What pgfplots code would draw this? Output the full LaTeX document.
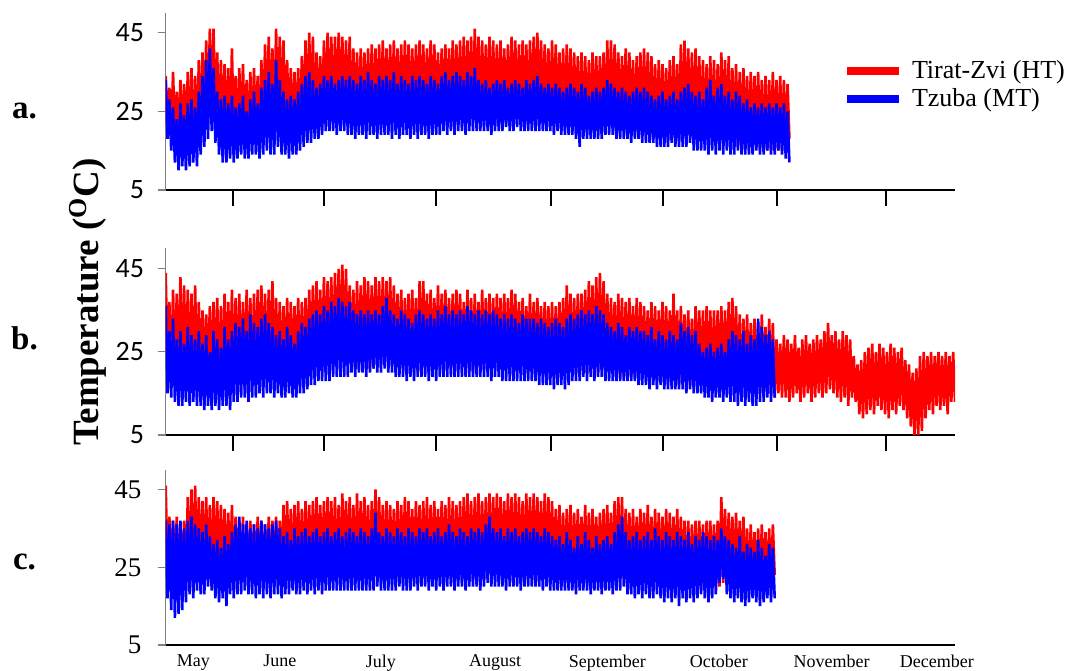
\documentclass[border=0pt]{standalone}
\usepackage{fontspec}
\setmainfont{Liberation Serif}
\newfontfamily\calibri{Carlito}
\usepackage{pgfplots}
\usepackage{pgfplotstable}
\pgfplotsset{compat=1.18}

% daily maximum and minimum, alternating: day d -> max at d, min at d+0.5
% panel a
\pgfplotstableread[row sep=\\,header=false]{34\\20\\31\\19\\35\\18\\30\\17\\33\\16\\32\\17\\35\\15\\36\\15\\34\\16\\38\\18\\
40\\20\\43\\22\\46\\24\\46\\22\\40\\19\\38\\18\\37\\17\\36\\17\\41\\18\\34\\17\\
36\\18\\37\\17\\33\\16\\35\\17\\36\\18\\34\\18\\38\\19\\42\\20\\44\\21\\41\\20\\
46\\22\\44\\21\\43\\20\\38\\19\\36\\18\\35\\18\\36\\19\\39\\20\\43\\21\\45\\22\\
44\\22\\40\\21\\39\\21\\43\\22\\45\\23\\44\\23\\44\\23\\45\\23\\44\\22\\43\\22\\
44\\22\\41\\21\\40\\21\\41\\21\\40\\21\\41\\22\\42\\22\\41\\22\\42\\22\\43\\22\\
41\\22\\42\\22\\43\\23\\41\\22\\42\\22\\43\\23\\42\\22\\41\\22\\42\\22\\43\\23\\
42\\22\\41\\22\\43\\23\\42\\22\\40\\22\\41\\22\\42\\22\\41\\22\\43\\23\\42\\22\\
43\\23\\44\\23\\43\\23\\44\\23\\46\\24\\44\\23\\43\\23\\42\\23\\44\\23\\43\\22\\
42\\22\\43\\23\\41\\22\\42\\22\\44\\23\\43\\23\\42\\22\\43\\22\\42\\22\\43\\23\\
44\\23\\45\\23\\43\\23\\42\\22\\41\\22\\43\\22\\42\\22\\40\\21\\41\\21\\42\\21\\
41\\21\\40\\21\\39\\20\\40\\20\\39\\20\\38\\20\\40\\20\\39\\20\\39\\20\\40\\20\\
43\\21\\43\\21\\42\\21\\40\\20\\39\\20\\41\\20\\40\\20\\38\\19\\39\\19\\40\\19\\
41\\19\\40\\19\\39\\19\\37\\18\\38\\18\\37\\18\\36\\18\\38\\18\\39\\18\\37\\18\\
42\\19\\43\\19\\41\\19\\40\\18\\41\\18\\39\\18\\38\\17\\37\\17\\39\\17\\38\\17\\
37\\17\\40\\18\\38\\17\\39\\17\\36\\16\\37\\16\\35\\16\\36\\16\\34\\16\\35\\16\\
34\\16\\35\\16\\33\\15\\34\\15\\33\\15\\35\\15\\33\\15\\34\\15\\33\\15\\32\\18\\}\redA
\pgfplotstableread[row sep=\\,header=false]{33\\18\\28\\15\\26\\12\\23\\10\\27\\11\\24\\10\\27\\11\\28\\12\\26\\11\\30\\14\\
34\\16\\38\\18\\41\\20\\36\\17\\30\\14\\28\\12\\29\\12\\27\\13\\29\\12\\26\\13\\
27\\14\\29\\13\\25\\13\\28\\14\\30\\14\\27\\13\\31\\14\\33\\15\\35\\14\\32\\14\\
38\\16\\33\\14\\30\\14\\28\\13\\29\\14\\28\\14\\30\\15\\32\\16\\34\\17\\35\\17\\
33\\18\\31\\18\\32\\19\\34\\20\\33\\20\\34\\20\\32\\19\\33\\20\\34\\20\\33\\19\\
34\\19\\33\\18\\32\\19\\34\\19\\33\\18\\35\\19\\33\\19\\32\\18\\34\\19\\33\\19\\
34\\19\\33\\18\\35\\19\\32\\18\\34\\19\\33\\19\\32\\18\\34\\19\\33\\18\\34\\19\\
33\\19\\32\\18\\34\\19\\33\\19\\32\\19\\34\\20\\35\\19\\33\\20\\34\\19\\35\\20\\
34\\20\\33\\19\\35\\20\\34\\20\\36\\20\\33\\20\\32\\20\\33\\20\\31\\19\\32\\20\\
33\\20\\32\\20\\33\\21\\31\\20\\32\\20\\33\\21\\32\\20\\31\\20\\33\\20\\32\\20\\
33\\20\\34\\20\\32\\20\\31\\20\\32\\20\\31\\19\\32\\20\\31\\19\\30\\19\\31\\19\\
32\\19\\31\\18\\30\\16\\32\\18\\31\\18\\29\\18\\30\\18\\31\\18\\30\\18\\31\\19\\
33\\19\\32\\19\\31\\18\\30\\18\\31\\18\\30\\18\\29\\17\\30\\18\\31\\18\\30\\17\\
31\\17\\30\\17\\29\\17\\28\\16\\29\\16\\30\\16\\28\\16\\29\\17\\30\\16\\28\\16\\
30\\16\\31\\16\\32\\17\\30\\15\\29\\15\\30\\15\\28\\15\\31\\14\\33\\15\\29\\14\\
31\\15\\32\\14\\29\\15\\30\\14\\28\\14\\30\\15\\29\\14\\27\\14\\28\\14\\26\\14\\
27\\15\\26\\14\\27\\14\\26\\15\\27\\14\\26\\14\\27\\15\\26\\14\\27\\13\\25\\12\\}\blueA
% panel b
\pgfplotstableread[row sep=\\,header=false]{44\\22\\37\\18\\40\\17\\39\\16\\43\\16\\41\\17\\40\\16\\39\\16\\41\\17\\37\\18\\
35\\19\\34\\20\\36\\18\\37\\17\\38\\16\\36\\16\\39\\17\\37\\16\\40\\16\\38\\16\\
39\\17\\37\\16\\40\\17\\38\\17\\39\\17\\40\\18\\41\\18\\39\\18\\40\\18\\42\\19\\
38\\18\\37\\18\\36\\17\\38\\18\\37\\18\\36\\18\\38\\18\\37\\19\\38\\19\\40\\20\\
41\\20\\42\\20\\40\\20\\43\\21\\42\\21\\43\\21\\44\\22\\45\\22\\46\\22\\45\\22\\
41\\22\\40\\21\\42\\21\\41\\21\\43\\22\\42\\21\\41\\21\\43\\22\\42\\22\\43\\22\\
42\\22\\43\\22\\41\\21\\39\\21\\40\\21\\38\\21\\39\\21\\40\\21\\38\\20\\42\\21\\
42\\21\\39\\21\\40\\21\\38\\21\\41\\21\\39\\21\\40\\21\\38\\21\\39\\21\\40\\21\\
39\\21\\37\\21\\40\\21\\38\\20\\39\\21\\37\\21\\40\\21\\38\\21\\39\\20\\38\\21\\
39\\21\\38\\21\\39\\21\\38\\21\\40\\21\\39\\21\\37\\21\\38\\20\\36\\20\\39\\20\\
37\\20\\38\\20\\36\\20\\37\\20\\36\\19\\37\\19\\36\\19\\37\\19\\38\\20\\41\\20\\
39\\20\\38\\20\\39\\20\\39\\20\\40\\20\\42\\20\\41\\20\\43\\20\\44\\21\\42\\20\\
39\\20\\38\\20\\37\\19\\39\\19\\38\\19\\37\\19\\38\\19\\36\\19\\38\\19\\37\\19\\
36\\19\\35\\18\\37\\18\\36\\18\\35\\18\\37\\18\\36\\18\\35\\18\\39\\18\\35\\17\\
36\\17\\34\\17\\35\\17\\33\\17\\36\\17\\35\\17\\35\\16\\36\\16\\35\\16\\35\\16\\
35\\16\\36\\16\\35\\16\\37\\16\\38\\16\\36\\15\\34\\15\\33\\15\\34\\15\\32\\15\\
33\\15\\32\\15\\34\\15\\31\\15\\33\\15\\32\\14\\28\\15\\27\\14\\29\\14\\28\\13\\
27\\14\\29\\15\\26\\13\\28\\14\\29\\15\\27\\13\\28\\14\\29\\15\\28\\14\\30\\15\\
32\\16\\29\\15\\30\\14\\28\\13\\30\\14\\29\\12\\28\\14\\24\\13\\22\\10\\23\\9\\
25\\10\\26\\11\\27\\10\\25\\12\\27\\11\\26\\10\\25\\9\\27\\11\\26\\10\\25\\12\\
26\\11\\23\\9\\22\\7\\20\\5\\21\\5\\24\\6\\25\\9\\24\\11\\25\\10\\24\\12\\
25\\11\\24\\12\\25\\10\\24\\13\\25\\13\\}\redB
\pgfplotstableread[row sep=\\,header=false]{36\\15\\30\\14\\33\\13\\28\\12\\30\\12\\27\\13\\31\\12\\29\\13\\28\\12\\30\\12\\
27\\11\\29\\12\\25\\11\\30\\12\\28\\11\\26\\12\\31\\12\\28\\11\\30\\13\\32\\13\\
31\\14\\33\\14\\30\\13\\34\\14\\32\\14\\31\\15\\33\\14\\34\\15\\32\\15\\31\\14\\
29\\15\\30\\14\\28\\14\\31\\15\\29\\14\\27\\14\\30\\15\\32\\15\\31\\16\\33\\17\\
34\\17\\35\\18\\34\\18\\36\\18\\35\\18\\37\\19\\36\\19\\38\\19\\37\\19\\36\\19\\
37\\20\\35\\19\\34\\20\\35\\20\\34\\19\\35\\20\\34\\21\\35\\20\\34\\20\\36\\21\\
38\\20\\35\\20\\34\\19\\33\\19\\35\\19\\34\\18\\33\\19\\32\\18\\34\\19\\35\\19\\
34\\19\\33\\18\\34\\19\\33\\18\\35\\19\\34\\19\\36\\19\\34\\19\\35\\19\\34\\19\\
35\\19\\34\\19\\36\\19\\35\\19\\34\\19\\35\\19\\34\\19\\35\\19\\34\\18\\35\\19\\
34\\19\\33\\18\\34\\18\\33\\18\\34\\18\\33\\18\\32\\18\\34\\18\\33\\18\\33\\18\\
33\\18\\32\\17\\33\\17\\32\\17\\31\\17\\32\\16\\33\\17\\32\\17\\31\\16\\33\\17\\
34\\18\\33\\18\\34\\18\\35\\19\\34\\18\\35\\19\\34\\18\\36\\19\\35\\19\\34\\18\\
32\\18\\31\\18\\30\\18\\32\\18\\31\\18\\29\\18\\31\\18\\30\\18\\31\\17\\30\\17\\
30\\17\\29\\16\\31\\17\\28\\16\\30\\17\\29\\16\\28\\16\\30\\16\\29\\16\\28\\16\\
32\\16\\30\\15\\31\\16\\29\\15\\30\\15\\27\\15\\25\\14\\26\\14\\27\\13\\25\\14\\
26\\14\\27\\13\\25\\14\\28\\13\\30\\13\\29\\12\\28\\13\\30\\12\\27\\13\\29\\12\\
28\\12\\33\\13\\31\\13\\29\\14\\30\\13\\28\\14\\}\blueB
% panel c
\pgfplotstableread[row sep=\\,header=false]{46\\24\\38\\22\\37\\21\\38\\21\\36\\22\\37\\21\\43\\20\\45\\21\\46\\22\\43\\22\\
42\\22\\43\\22\\41\\21\\43\\22\\42\\22\\41\\21\\40\\21\\39\\21\\41\\22\\38\\21\\
37\\21\\38\\21\\36\\21\\37\\21\\36\\21\\38\\21\\37\\21\\36\\21\\38\\21\\37\\21\\
38\\21\\37\\21\\41\\22\\42\\22\\40\\22\\41\\22\\42\\22\\40\\22\\42\\22\\41\\22\\
42\\22\\43\\22\\41\\22\\42\\22\\43\\22\\42\\22\\43\\22\\41\\22\\44\\23\\42\\22\\
43\\22\\41\\22\\44\\23\\42\\22\\43\\22\\41\\22\\42\\22\\45\\23\\43\\22\\41\\22\\
42\\22\\41\\22\\40\\22\\42\\22\\41\\22\\43\\22\\42\\22\\40\\22\\42\\22\\41\\22\\
42\\22\\43\\22\\41\\22\\42\\22\\40\\22\\42\\22\\41\\22\\43\\22\\42\\22\\41\\22\\
42\\22\\43\\22\\44\\23\\42\\22\\43\\23\\44\\23\\42\\22\\43\\23\\44\\23\\43\\23\\
44\\23\\43\\23\\42\\22\\44\\23\\43\\23\\44\\23\\43\\23\\42\\22\\44\\23\\43\\22\\
44\\23\\43\\22\\42\\22\\44\\23\\43\\22\\42\\22\\40\\22\\41\\21\\39\\21\\40\\21\\
41\\21\\39\\21\\40\\21\\38\\21\\41\\21\\39\\21\\40\\21\\38\\21\\39\\21\\40\\21\\
41\\21\\39\\21\\42\\21\\43\\22\\43\\22\\40\\21\\39\\21\\40\\21\\38\\21\\40\\21\\
39\\21\\41\\21\\38\\21\\40\\21\\39\\21\\38\\20\\40\\21\\39\\20\\38\\20\\40\\21\\
38\\20\\37\\20\\37\\20\\36\\20\\37\\20\\37\\20\\36\\20\\37\\20\\37\\20\\36\\20\\
37\\20\\43\\21\\40\\21\\39\\21\\38\\20\\39\\20\\37\\20\\38\\20\\35\\19\\36\\19\\
34\\19\\35\\19\\36\\19\\34\\19\\35\\19\\36\\23\\}\redC
\pgfplotstableread[row sep=\\,header=false]{37\\17\\36\\14\\37\\12\\36\\13\\37\\14\\35\\16\\37\\18\\38\\17\\36\\19\\35\\18\\
34\\18\\36\\20\\33\\19\\31\\17\\32\\16\\30\\17\\33\\15\\31\\18\\34\\17\\36\\18\\
38\\18\\36\\19\\37\\18\\35\\18\\36\\17\\35\\18\\37\\17\\36\\18\\35\\17\\36\\18\\
37\\18\\35\\17\\33\\18\\34\\18\\32\\19\\35\\18\\33\\18\\34\\19\\35\\18\\33\\19\\
34\\18\\35\\19\\33\\18\\34\\19\\35\\19\\33\\19\\34\\19\\35\\19\\33\\19\\34\\19\\
35\\19\\34\\19\\33\\19\\35\\19\\34\\19\\33\\19\\35\\19\\39\\20\\34\\19\\33\\19\\
35\\19\\34\\19\\33\\19\\35\\20\\34\\19\\33\\19\\35\\19\\34\\20\\33\\19\\35\\20\\
34\\20\\35\\19\\33\\20\\34\\19\\35\\20\\33\\19\\34\\20\\36\\20\\34\\19\\33\\20\\
35\\20\\34\\19\\33\\20\\35\\20\\34\\20\\35\\19\\34\\20\\36\\21\\38\\20\\35\\20\\
34\\20\\35\\20\\33\\19\\35\\20\\34\\20\\35\\20\\33\\19\\34\\20\\35\\20\\34\\20\\
35\\20\\34\\20\\33\\19\\35\\20\\34\\19\\33\\19\\32\\19\\33\\19\\31\\19\\34\\19\\
32\\19\\30\\18\\33\\19\\31\\19\\34\\19\\32\\18\\30\\19\\33\\19\\31\\18\\32\\19\\
33\\19\\31\\18\\34\\19\\36\\19\\38\\20\\34\\18\\32\\18\\33\\17\\34\\18\\32\\17\\
33\\18\\34\\17\\32\\17\\35\\18\\33\\17\\32\\16\\34\\17\\33\\16\\32\\17\\34\\15\\
33\\17\\32\\16\\34\\17\\31\\16\\33\\17\\32\\18\\34\\17\\33\\16\\32\\17\\33\\18\\
32\\21\\35\\22\\33\\18\\32\\17\\31\\16\\30\\17\\33\\16\\29\\15\\31\\16\\30\\17\\
29\\16\\32\\15\\30\\16\\28\\17\\31\\16\\30\\17\\}\blueC

\pgfplotsset{
  panel/.style={
    scale only axis, width=394.65pt,
    xmin=0, xmax=214.5, ymin=5, ymax=50,
    axis lines=left, axis line style={-},
    x axis line style={-, black, line width=1pt},
    y axis line style={-, gray, line width=0.5pt},
    tick align=outside, major tick length=4pt,
    xtick=\empty,
    extra x ticks={18.4,43.1,73.5,104.8,135.1,166.2,195.8},
    extra x tick labels={},
    extra x tick style={major tick length=8pt, tick style={draw=black, line width=1pt}},
    ytick={5,25,45}, ytick style={gray, line width=0.6pt},
    /pgf/number format/assume math mode=true,
    yticklabel style={font=\calibri\fontsize{14}{14}\selectfont, xshift=-3.3pt},
    legend image code/.code={\draw[#1, line width=4pt] (0pt,0pt) -- (26pt,0pt);},
  },
  hot/.style={red, line width=1.3pt},
  mild/.style={blue, line width=1.3pt},
}

\begin{document}
\begin{tikzpicture}
\useasboundingbox (0,0) rectangle (532.5pt,335pt);

\begin{axis}[panel, at={(82.85pt,240pt)}, anchor=south west, height=88.5pt,
  legend style={at={(rel axis cs:0.85,0.777)}, anchor=north west, draw=none, fill=none,
    font=\fontsize{13}{13}\selectfont, row sep=-0.5pt,
    /tikz/every odd column/.append style={column sep=2.5pt}},
  legend cell align=left]
\addplot[hot] table[x expr=\coordindex/2, y index=0] {\redA};
\addplot[mild] table[x expr=\coordindex/2, y index=0] {\blueA};
\legend{Tirat-Zvi (HT), Tzuba (MT)}
\end{axis}

\begin{axis}[panel, at={(82.85pt,117.5pt)}, anchor=south west, height=93.5pt]
\addplot[hot] table[x expr=\coordindex/2, y index=0] {\redB};
\addplot[mild] table[x expr=\coordindex/2, y index=0] {\blueB};
\end{axis}

\begin{axis}[panel, at={(82.85pt,12.5pt)}, anchor=south west, height=87.5pt,
  yticklabel style={font=\fontsize{13.5}{13.5}\selectfont, xshift=-1.35pt},
  xtick={7.5,31,58.5,89.5,120,150.3,181,209.6},
  xticklabels={May,June,July,August,September,October,November,December},
  xtick style={draw=none},
  xticklabel style={font=\fontsize{9}{9}\selectfont, yshift=2.5pt}]
\addplot[hot] table[x expr=\coordindex/2, y index=0] {\redC};
\addplot[mild] table[x expr=\coordindex/2, y index=0] {\blueC};
\end{axis}

\node[font=\bfseries\fontsize{16.5}{16.5}\selectfont] at (12.25pt,279.5pt) {a.};
\node[font=\bfseries\fontsize{16.5}{16.5}\selectfont] at (12.25pt,166pt) {b.};
\node[font=\bfseries\fontsize{16.5}{16.5}\selectfont] at (12.25pt,54pt) {c.};
\node[rotate=90, font=\bfseries\fontsize{18.5}{18.5}\selectfont] at (44pt,184pt)
  {Temperature (\textsuperscript{O}C)};
\end{tikzpicture}
\end{document}
